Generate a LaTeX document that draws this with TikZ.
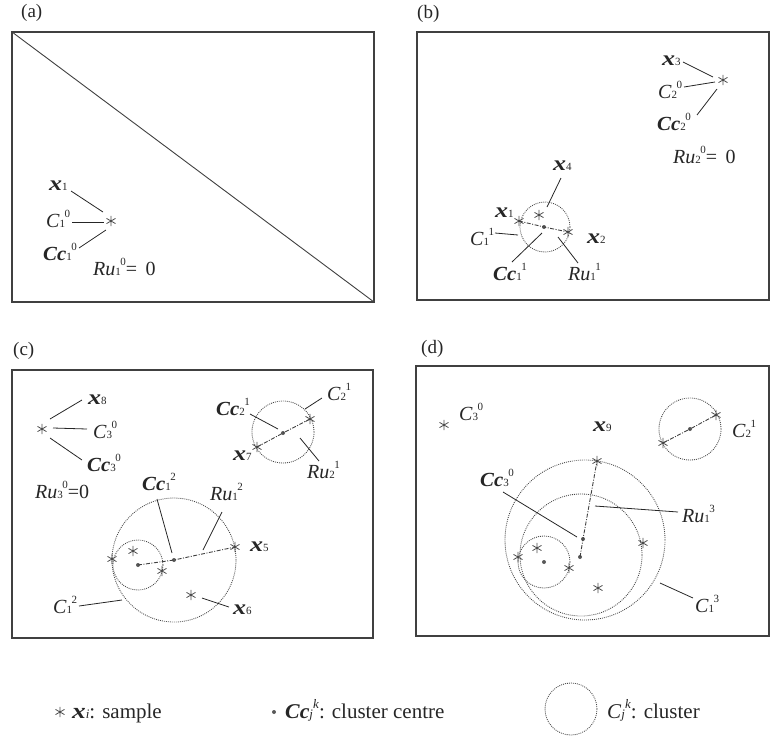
\documentclass[tikz,border=0pt]{standalone}
\usepackage{fontspec}
\setmainfont{Liberation Serif}[Ligatures=TeX]
\newfontfamily\tnr{Liberation Serif}
\newcommand\sbs[1]{{\fontsize{11}{11}\selectfont #1}}
\newcommand\sps[1]{\kern-0.5pt\raisebox{10pt}{\fontsize{11}{11}\selectfont #1}}
\newcommand\lsbs[1]{{\fontsize{13}{13}\selectfont #1}}
\newcommand\lsps[1]{\raisebox{10pt}{\fontsize{13}{13}\selectfont #1}}
\newcommand\bx{\scalebox{1.3}[1.05]{\textbf{\textit{x}}}}
\newcommand\bcc{\scalebox{1.04}[1]{\textbf{\textit{Cc}}}}
\newcommand\astr[2]{\node[smp] (#1) at (#2) {};
  \draw[astl] (#1.90) -- (#1.270) (#1.30) -- (#1.210) (#1.150) -- (#1.330);}
\newcommand\ldr[3]{\coordinate (#1a) at (#2); \coordinate (#1b) at (#3); \draw[lead] (#1a) -- (#1b);}
\begin{document}
\tnr
\begin{tikzpicture}[x=1pt,y=-1pt,
  frm/.style={draw=black!75, line width=1.1pt},
  lead/.style={draw=black!85, line width=0.8pt},
  clus/.style={draw=black!72, line width=0.85pt, dash pattern=on 0.9pt off 1.1pt},
  rad/.style={draw=black!75, line width=0.9pt, dash pattern=on 4pt off 1.5pt on 1pt off 1.5pt},
  smp/.style={circle, inner sep=0pt, minimum size=10pt},
  astl/.style={draw=black!70, line width=0.8pt},
  ctr/.style={circle, fill=black!65, inner sep=0pt, minimum size=4pt},
  lbl/.style={anchor=base west, inner sep=0pt, text=black!85, font=\tnr\fontsize{20}{22}\selectfont},
  pcap/.style={anchor=base west, inner sep=0pt, text=black!85, font=\tnr\fontsize{19}{21}\selectfont},
  leg/.style={anchor=base west, inner sep=0pt, text=black!85, font=\tnr\fontsize{21}{23}\selectfont},
]
\useasboundingbox (0,0) rectangle (771,740);

% ---------------- (a)
\node[pcap] (capa) at (21,17) {(a)};
\coordinate (aTL) at (12,32); \coordinate (aBR) at (374,302);
\draw[frm] (aTL) rectangle (aBR);
\draw[frm, line width=0.9pt] (aTL) -- (aBR);
\astr{a1}{111,221}
\node[lbl] (ax1) at (49,190) {\bx\sbs{1}};
\node[lbl] (aC) at (46,227) {\textit{C}\sbs{1}\sps{0}};
\node[lbl] (aCc) at (43,260) {\bcc\sbs{1}\sps{0}};
\node[lbl] (aRu) at (93,275) {\textit{Ru}\sbs{1}\sps{0}=\ \,0};
\ldr{la1}{71,191}{103,212}
\ldr{la2}{72,222}{104,222}
\ldr{la3}{79,248}{106,230}

% ---------------- (b)
\node[pcap] (capb) at (417,18) {(b)};
\draw[frm] (417,32) rectangle (769,300);
\astr{b3}{723,80}
\node[lbl] (bx3) at (662,65) {\bx\sbs{3}};
\node[lbl] (bC2) at (658,98) {\textit{C}\sbs{2}\sps{0}};
\node[lbl] (bCc2) at (657,130) {\bcc\sbs{2}\sps{0}};
\node[lbl] (bRu2) at (673,163) {\textit{Ru}\sbs{2}\sps{0}=\ \,0};
\ldr{lb1}{683,62}{713,77}
\ldr{lb2}{684,87}{715,82}
\ldr{lb3}{697,115}{717,89}
\draw[clus] (545,227) circle[radius=25pt];
\astr{b1}{519,221}
\astr{b2}{568,232}
\astr{b4}{539,215}
\node[ctr] (bc1) at (544,227) {};
\draw[rad] (b1.center) -- (bc1.center) -- (b2.center);
\node[lbl] (bx4) at (553,170) {\bx\sbs{4}};
\node[lbl] (bx1) at (495,217) {\bx\sbs{1}};
\node[lbl] (bC1) at (470,245) {\textit{C}\sbs{1}\sps{1}};
\node[lbl] (bx2) at (587,243) {\bx\sbs{2}};
\node[lbl] (bCc1) at (493,280) {\bcc\sbs{1}\sps{1}};
\node[lbl] (bRu1) at (568,280) {\textit{Ru}\sbs{1}\sps{1}};
\ldr{lb4}{561,178}{547,207}
\ldr{lb5}{495,233}{518,235}
\ldr{lb6}{512,262}{542,233}
\ldr{lb7}{578,263}{558,237}

% ---------------- (c)
\node[pcap] (capc) at (13,355) {(c)};
\draw[frm] (12,370) rectangle (373,638);
\astr{c8}{42,429}
\node[lbl] (cx8) at (88,404) {\bx\sbs{8}};
\node[lbl] (cC3) at (93,438) {\textit{C}\sbs{3}\sps{0}};
\node[lbl] (cCc3) at (87,471) {\bcc\sbs{3}\sps{0}};
\node[lbl] (cRu3) at (35,498) {\textit{Ru}\sbs{3}\sps{0}=0};
\ldr{lc1}{50,419}{82,400}
\ldr{lc2}{53,428}{87,429}
\ldr{lc3}{50,438}{82,460}
% cluster C2^1
\draw[clus] (283,432) circle[radius=31pt];
\astr{c7}{257,447}
\astr{c9}{310,419}
\node[ctr] (cc2) at (283,433) {};
\draw[rad] (c7.center) -- (cc2.center) -- (c9.center);
\node[lbl] (cCc2) at (216,415) {\bcc\sbs{2}\sps{1}};
\node[lbl] (cC2) at (327,400) {\textit{C}\sbs{2}\sps{1}};
\node[lbl] (cx7) at (233,460) {\bx\sbs{7}};
\node[lbl] (cRu2) at (307,478) {\textit{Ru}\sbs{2}\sps{1}};
\ldr{lc4}{250,414}{278,429}
\ldr{lc5}{322,398}{305,409}
\ldr{lc6}{319,461}{300,438}
% cluster C1^2
\draw[clus] (174,560) circle[radius=62pt];
\draw[clus] (138,565) circle[radius=25pt];
\astr{c1}{112,559}
\astr{c2}{133,551}
\astr{c3}{162,571}
\astr{c5}{235,547}
\astr{c6}{191,595}
\node[ctr] (cs1) at (138,565) {};
\node[ctr] (cc1) at (174,560) {};
\draw[rad] (cs1.center) -- (cc1.center) -- (c5.center);
\node[lbl] (cCc1) at (142,490) {\bcc\sbs{1}\sps{2}};
\node[lbl] (cRu1) at (210,500) {\textit{Ru}\sbs{1}\sps{2}};
\node[lbl] (cx5) at (250,551) {\bx\sbs{5}};
\node[lbl] (cx6) at (233,614) {\bx\sbs{6}};
\node[lbl] (cC1) at (53,613) {\textit{C}\sbs{1}\sps{2}};
\ldr{lc7}{157,499}{172,553}
\ldr{lc8}{222,512}{203,550}
\ldr{lc9}{202,598}{229,607}
\ldr{lc10}{79,606}{122,600}

% ---------------- (d)
\node[pcap] (capd) at (421,353) {(d)};
\draw[frm] (416,366) rectangle (769,636);
\astr{d0}{444,425}
\node[lbl] (dC3) at (459,420) {\textit{C}\sbs{3}\sps{0}};
% cluster C2^1
\draw[clus] (690,429) circle[radius=31pt];
\astr{d7}{663,443}
\astr{d8}{716,415}
\node[ctr] (dc2) at (690,429) {};
\draw[rad] (d7.center) -- (dc2.center) -- (d8.center);
\node[lbl] (dC2) at (732,437) {\textit{C}\sbs{2}\sps{1}};
% cluster C1^3
\draw[clus] (585,540) circle[radius=80pt];
\draw[clus] (581,555) circle[radius=61pt];
\draw[clus] (544,562) circle[radius=26pt];
\astr{d9}{597,461}
\astr{d1}{518,557}
\astr{d2}{537,548}
\astr{d3}{569,568}
\astr{d5}{643,543}
\astr{d6}{598,588}
\node[ctr] (ds1) at (544,562) {};
\node[ctr] (dc1) at (583,539) {};
\node[ctr] (dm1) at (580,557) {};
\draw[rad] (dm1.center) -- (dc1.center) -- (d9.center);
\node[lbl] (dx9) at (593,431) {\bx\sbs{9}};
\node[lbl] (dCc3) at (480,486) {\bcc\sbs{3}\sps{0}};
\node[lbl] (dRu1) at (682,522) {\textit{Ru}\sbs{1}\sps{3}};
\node[lbl] (dC1) at (695,612) {\textit{C}\sbs{1}\sps{3}};
\ldr{ld1}{503,492}{577,537}
\ldr{ld2}{595,506}{678,512}
\ldr{ld3}{660,583}{693,598}

% ---------------- legend
\astr{g1}{60,712}
\node[leg] (gx) at (72,718) {\bx\lsbs{\textit{i}}: sample};
\node[ctr] (gc) at (274,712) {};
\node[leg] (gcc) at (285,718) {\bcc\lsbs{\textit{j}}\lsps{\textit{k}}: cluster centre};
\draw[clus] (571,709) circle[radius=26pt];
\node[leg] (gcl) at (607,718) {\textit{C}\lsbs{\textit{j}}\lsps{\textit{k}}: cluster};
\end{tikzpicture}
\end{document}
